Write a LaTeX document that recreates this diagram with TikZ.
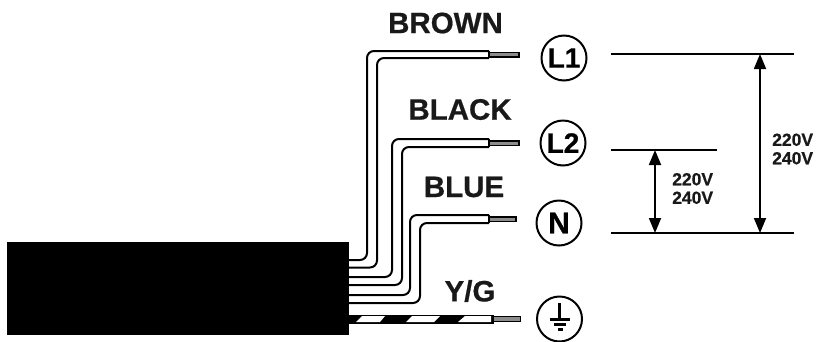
\documentclass[tikz,border=0pt]{standalone}
\usepackage{fontspec}
\setmainfont[BoldFeatures={FakeBold=0.6}]{Liberation Sans}
\usetikzlibrary{arrows.meta}
\tikzset{
  wire/.style={line width=2pt,rounded corners=7pt},
  bare/.style={draw=black,line width=1.5pt,fill=black!45},
  term/.style={circle,draw=black,line width=2pt,minimum size=45pt,inner sep=0pt,font=\fontsize{28}{28}\selectfont\bfseries},
  lbl/.style={font=\fontsize{29.5}{29.5}\selectfont\bfseries,text=black!90,inner sep=0pt},
  volt/.style={font=\fontsize{17.5}{18.5}\selectfont\bfseries,text=black!90,align=left,inner sep=0pt},
  level/.style={line width=1.6pt},
  span/.style={line width=1.8pt,{Triangle[length=15pt,width=12pt]}-{Triangle[length=15pt,width=12pt]}},
  gnd/.style={line width=2.2pt}
}
\begin{document}
\begin{tikzpicture}[x=1pt,y=-1pt]
\useasboundingbox (0,0) rectangle (818,341);
% wires
\draw[wire] (345,260) -- (367,260) -- (367,51) -- (489,51);
\draw[wire] (345,267.5) -- (377,267.5) -- (377,58) -- (489,58);
\draw[bare] (489.5,52.5) rectangle (519,57);
\draw[wire] (345,277) -- (392,277) -- (392,139) -- (489,139);
\draw[wire] (345,285) -- (402,285) -- (402,147) -- (489,147);
\draw[bare] (489.5,141) rectangle (519,145.5);
\draw[wire] (345,295) -- (410,295) -- (410,215) -- (489,215);
\draw[wire] (345,303) -- (420,303) -- (420,223) -- (489,223);
\draw[bare] (489.5,217) rectangle (516,221.5);
\draw[line width=2pt] (489,51) -- (489,58) (489,139) -- (489,147) (489,215) -- (489,223);
% cable
\fill[black] (7,242) rectangle (349,334.5);
% Y/G
\draw[bare] (493,316.5) rectangle (520.5,321.5);
\fill[black] (345,314.5) rectangle (494,323.5);
\fill[white] (356,322) -- (362,316) -- (385,316) -- (380,322) -- cycle;
\fill[white] (406,322) -- (412,316) -- (440,316) -- (434,322) -- cycle;
\fill[white] (458,322) -- (465,316) -- (491,316) -- (491,322) -- cycle;
% labels
\node[lbl] (brown) at (445.5,23) {BROWN};
\node[lbl] (black) at (460,109.5) {BLACK};
\node[lbl] (blue) at (464,187) {BLUE};
\node[lbl] (yg) at (470,291) {Y/G};
% terminals
\node[term] (l1) at (564,58) {L1};
\node[term] (l2) at (563,143) {L2};
\node[term,font=\fontsize{30}{30}\selectfont\bfseries] (n) at (559,223) {N};
\node[term] (pe) at (559.5,319) {};
\draw[gnd] (pe.center) ++(0,-16) -- ++(0,16);
\draw[gnd] (549.5,319.5) -- (570,319.5);
\draw[gnd] (554,324.5) -- (566,324.5);
\draw[gnd] (558,329.5) -- (562.5,329.5);
% levels
\coordinate (a1) at (760,54);
\coordinate (a2) at (760,233);
\coordinate (b1) at (655,150);
\coordinate (b2) at (655,233);
\draw[level] (611,54) -- (794,54);
\draw[level] (611,150) -- (717,150);
\draw[level,line width=2pt] (611,233) -- (794,233);
\draw[span] (a1) -- (a2);
\draw[span] (b1) -- (b2);
\node[volt,anchor=west] (v1) at (772,149) {220V\\240V};
\node[volt,anchor=west] (v2) at (672,188.5) {220V\\240V};
\end{tikzpicture}
\end{document}
